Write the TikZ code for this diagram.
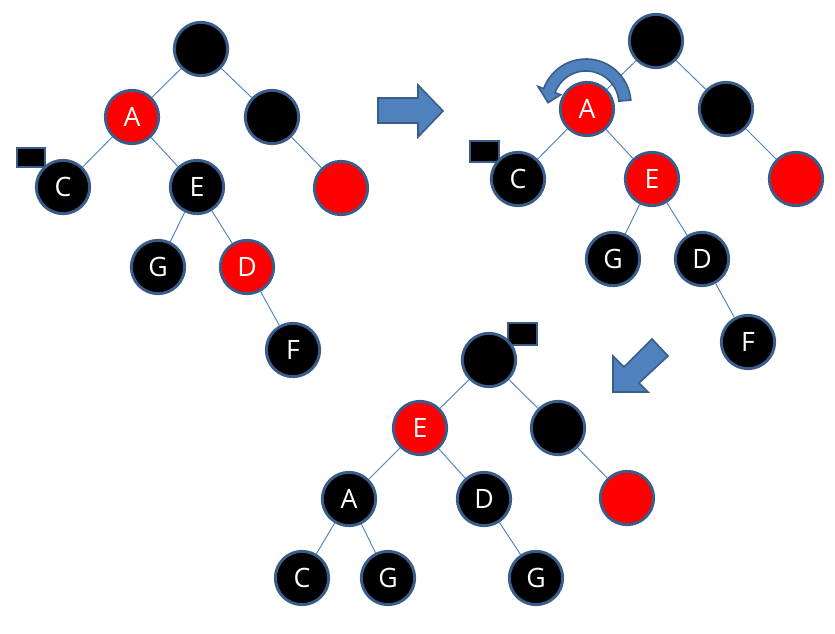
\documentclass[tikz,border=0pt]{standalone}
\usepackage{fontspec}
\setmainfont{Open Sans}
\usetikzlibrary{calc,backgrounds}
\definecolor{nodeedge}{HTML}{385D8A}
\definecolor{linkblue}{HTML}{4F81BD}
\definecolor{redfill}{HTML}{FF0000}
\tikzset{
  rb/.style={circle,minimum size=40pt,inner sep=0pt,draw=nodeedge,line width=2.2pt,text=white,font=\fontsize{20}{20}\selectfont},
  blk/.style={rb,fill=black},
  rdn/.style={rb,fill=redfill},
  edge/.style={draw=linkblue,line width=0.7pt},
  marker/.style={draw=nodeedge,fill=black,line width=2pt},
  barrow/.style={fill=linkblue,draw=nodeedge,line width=1.2pt,line join=miter}
}
\begin{document}
\begin{tikzpicture}[x=0.75pt,y=-0.75pt]
\path[use as bounding box] (0,0) rectangle (835,634);
% markers (black rectangles)
\draw[marker] (17,148) rectangle (45,167);
\draw[marker] (470,141) rectangle (499,162);
\draw[marker] (508,323) rectangle (537,345);
% tree 1
\node[blk] (t1r) at (201,49) {};
\node[rdn] (t1a) at (132,117) {A};
\node[blk] (t1b) at (272,117) {};
\node[blk] (t1c) at (63,187) {C};
\node[blk] (t1e) at (197,187) {E};
\node[rdn] (t1x) at (341,188) {};
\node[blk] (t1g) at (158,267) {G};
\node[rdn] (t1d) at (247,267) {D};
\node[blk] (t1f) at (293,350) {F};
% tree 2
\node[blk] (t2r) at (656,41) {};
\node[rdn] (t2a) at (587,109) {A};
\node[blk] (t2b) at (726,109) {};
\node[blk] (t2c) at (518,179) {C};
\node[rdn] (t2e) at (652,179) {E};
\node[rdn] (t2x) at (796,179) {};
\node[blk] (t2g) at (613,259) {G};
\node[blk] (t2d) at (702,259) {D};
\node[blk] (t2f) at (748,342) {F};
% tree 3
\node[blk] (t3r) at (489,360) {};
\node[rdn] (t3e) at (420,428) {E};
\node[blk] (t3b) at (558,428) {};
\node[blk] (t3a) at (349,499) {A};
\node[blk] (t3d) at (484,499) {D};
\node[rdn] (t3x) at (627,498) {};
\node[blk] (t3c) at (302,578) {C};
\node[blk] (t3g) at (388,578) {G};
\node[blk] (t3h) at (536,578) {G};
\begin{scope}[on background layer]
\draw[edge] (t1r) -- (t1a);
\draw[edge] (t1r) -- (t1b);
\draw[edge] (t1a) -- (t1c);
\draw[edge] (t1a) -- (t1e);
\draw[edge] (t1b) -- (t1x);
\draw[edge] (t1e) -- (t1g);
\draw[edge] (t1e) -- (t1d);
\draw[edge] (t1d) -- (t1f);
\draw[edge] (t2r) -- (t2a);
\draw[edge] (t2r) -- (t2b);
\draw[edge] (t2a) -- (t2c);
\draw[edge] (t2a) -- (t2e);
\draw[edge] (t2b) -- (t2x);
\draw[edge] (t2e) -- (t2g);
\draw[edge] (t2e) -- (t2d);
\draw[edge] (t2d) -- (t2f);
\draw[edge] (t3r) -- (t3e);
\draw[edge] (t3r) -- (t3b);
\draw[edge] (t3e) -- (t3a);
\draw[edge] (t3e) -- (t3d);
\draw[edge] (t3b) -- (t3x);
\draw[edge] (t3a) -- (t3c);
\draw[edge] (t3a) -- (t3g);
\draw[edge] (t3d) -- (t3h);
\end{scope}
% block arrows
\draw[barrow] (378,98) -- (418,98) -- (418,85) -- (443,111) -- (418,137) -- (418,123) -- (378,123) -- cycle;
\draw[barrow] (613,392) -- (613,356) -- (624,367) -- (652,339) -- (668,356) -- (639,383) -- (648,392) -- cycle;
% rotation arrow
\coordinate (cc) at (586,104);
\draw[barrow] ($(cc)+(-5:45)$) arc[start angle=-5, end angle=-160, radius=45]
  -- ($(cc)+(-160:51)$) -- ($(cc)+(-178:38)$) -- ($(cc)+(-160:27)$)
  -- ($(cc)+(-160:33)$) arc[start angle=-160, end angle=-5, radius=33] -- cycle;
\end{tikzpicture}
\end{document}
